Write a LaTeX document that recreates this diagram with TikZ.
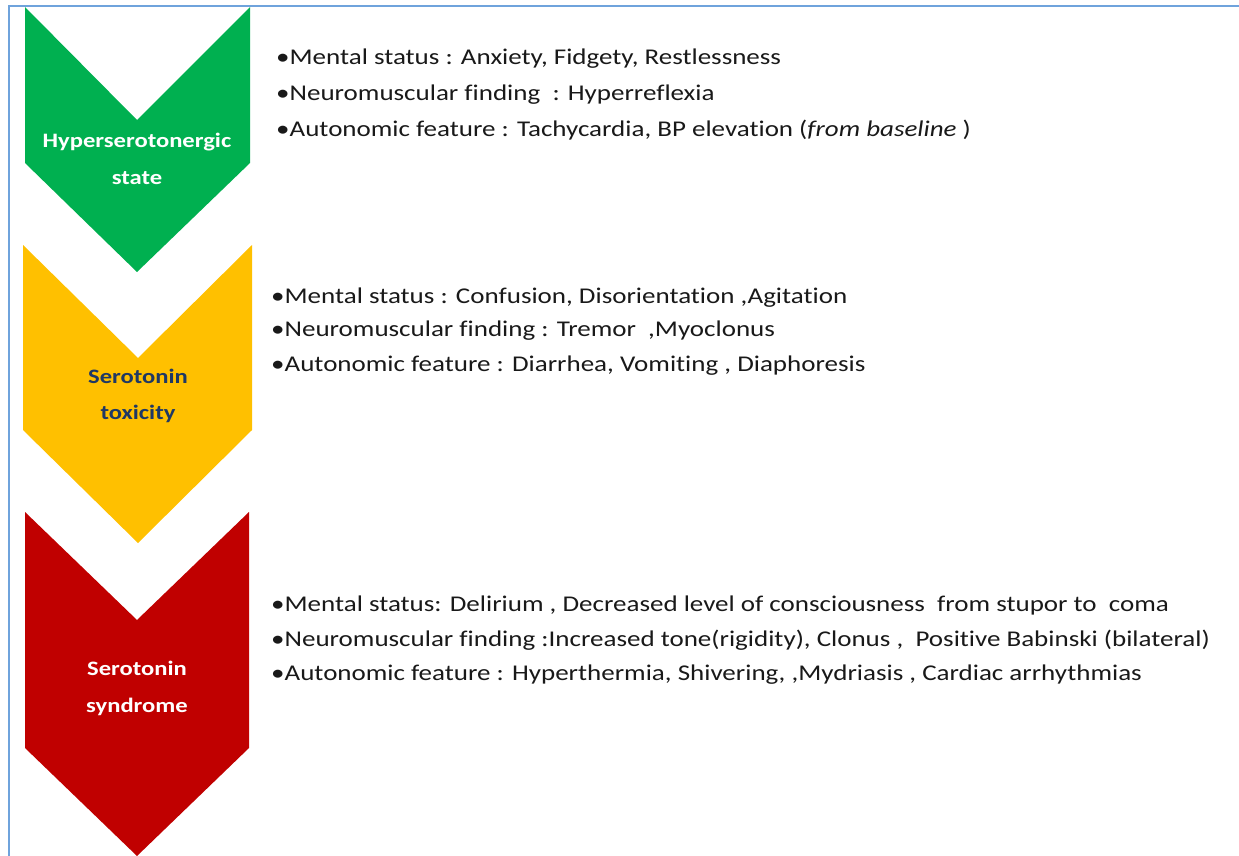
\documentclass[tikz,border=0pt]{standalone}
\usepackage{fontspec}
\setmainfont[FakeStretch=1.2, Ligatures=NoCommon]{Carlito}
\definecolor{cgreen}{HTML}{00B050}
\definecolor{cyellow}{HTML}{FFC000}
\definecolor{cred}{HTML}{C00000}
\definecolor{cnavy}{HTML}{1F3864}
\definecolor{cframe}{HTML}{6FA3DC}
\begin{document}
\begin{tikzpicture}[x=1pt,y=-1pt,
  lab/.style={font=\fontsize{20.5}{24}\selectfont\bfseries, inner sep=0pt, anchor=base},
  item/.style={font=\fontsize{22.5}{26}\selectfont, inner sep=0pt, anchor=base west, text=black!90}]
\useasboundingbox (0,0) rectangle (1239,856);
\fill[white] (0,0) rectangle (1239,856);
\draw[cframe, line width=2pt] (9,856) -- (9,6) -- (1239,6);
% chevrons
\fill[cgreen] (25,7) -- (137,120) -- (250,7) -- (250,163) -- (137,272) -- (25,163) -- cycle;
\fill[cyellow] (23,245) -- (138,358) -- (252,245) -- (252,430) -- (138,543) -- (23,430) -- cycle;
\fill[cred] (25,512) -- (137,620) -- (249,512) -- (249,748) -- (137,856) -- (25,748) -- cycle;
% labels
\node[lab, text=white] (g1) at (137,147) {Hyperserotonergic};
\node[lab, text=white] (g2) at (137,184) {state};
\node[lab, text=cnavy] (y1) at (138,383) {Serotonin};
\node[lab, text=cnavy] (y2) at (138,419) {toxicity};
\node[lab, text=white] (r1) at (137,675) {Serotonin};
\node[lab, text=white] (r2) at (137,712) {syndrome};
% items
\node[item] (a1) at (276,65) {•Mental status : Anxiety, Fidgety, Restlessness};
\node[item] (a2) at (276,101) {•Neuromuscular finding\ \ : Hyperreflexia};
\node[item] (a3) at (276,137) {•Autonomic feature : Tachycardia, BP elevation (\textit{from baseline} )};
\node[item] (b1) at (271,303) {•Mental status : Confusion, Disorientation ,Agitation};
\node[item] (b2) at (271,336) {•Neuromuscular finding : Tremor\ \ ,Myoclonus};
\node[item] (b3) at (271,371) {•Autonomic feature : Diarrhea, Vomiting , Diaphoresis};
\node[item] (c1) at (271,611) {•Mental status: Delirium , Decreased level of consciousness\ \ from stupor to\ \ coma};
\node[item] (c2) at (271,646) {•Neuromuscular finding :Increased tone(rigidity), Clonus ,\ \ Positive Babinski (bilateral)};
\node[item] (c3) at (271,680) {•Autonomic feature : Hyperthermia, Shivering, ,Mydriasis , Cardiac arrhythmias};
\end{tikzpicture}
\end{document}
